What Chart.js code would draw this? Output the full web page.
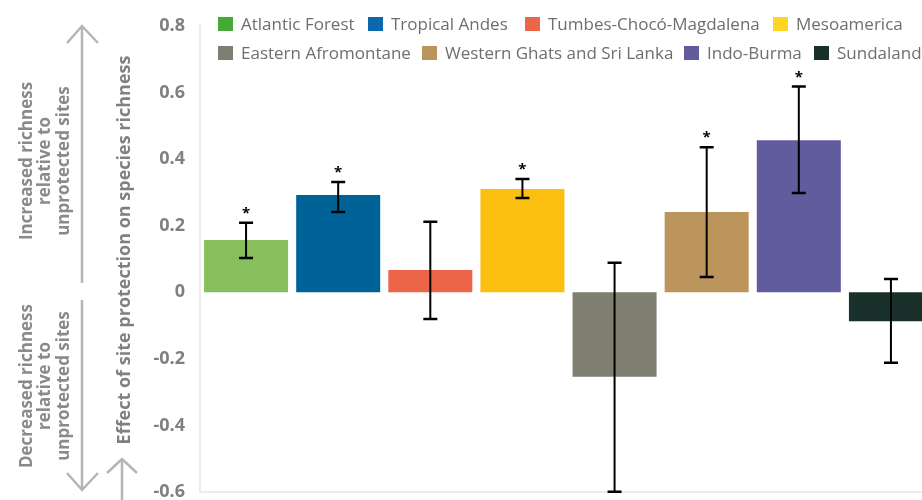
<!DOCTYPE html>
<html>
<head>
<meta charset="utf-8">
<script src="https://cdn.jsdelivr.net/npm/chart.js@4/dist/chart.umd.min.js"></script>
<style>
html,body{margin:0;padding:0;background:#fff;overflow:hidden}
#wrap{position:relative;width:922px;height:500px;overflow:hidden}
canvas{display:block}
</style>
</head>
<body>
<div id="wrap"><canvas id="c" width="940" height="500"></canvas></div>
<script>
const categories = ['Atlantic Forest','Tropical Andes','Tumbes-Chocó-Magdalena','Mesoamerica','Eastern Afromontane','Western Ghats and Sri Lanka','Indo-Burma','Sundaland'];
const effects   = [0.157, 0.292, 0.067, 0.310, -0.254, 0.241, 0.457, -0.087];
const errorLow  = [0.103, 0.241, -0.080, 0.283, -0.599, 0.046, 0.298, -0.212];
const errorHigh = [0.209, 0.331, 0.212, 0.340, 0.089, 0.436, 0.618, 0.040];
const significant = [true, true, false, true, false, true, true, false];
const yTickValues = [-0.6, -0.4, -0.2, 0, 0.2, 0.4, 0.6, 0.8];
const yTickLabels = ['-0.6', '-0.4', '-0.2', '0', '0.2', '0.4', '0.6', '0.8'];
const axisTitle = 'Effect of site protection on species richness';
const increasedLines = ['Increased richness', 'relative to', 'unprotected sites'];
const decreasedLines = ['Decreased richness', 'relative to', 'unprotected sites'];
const starMark = '*';

const barColors    = ['#88bf5d', '#006398', '#ec6548', '#fbbf10', '#7e7f70', '#bb955b', '#615c9e', '#1a302a'];
const legendColors = ['#45ab36', '#0b69ab', '#ed6549', '#fcd622', '#7d7f70', '#bb955b', '#615c9e', '#1a302a'];

const GRAY = '#808080';
const FONT = '"Open Sans", "Noto Sans", sans-serif';
const legendRows = [[0, 1, 2, 3], [4, 5, 6, 7]];
const legendRowY = [24, 53];
const legendItemX = [[218, 368, 525, 773], [218, 422, 684, 814]];

const decorPlugin = {
  id: 'decor',
  afterDatasetsDraw(chart) {
    const ctx = chart.ctx;
    const meta = chart.getDatasetMeta(0);
    const ys = chart.scales.y;
    ctx.save();
    ctx.strokeStyle = '#000';
    ctx.fillStyle = '#000';
    meta.data.forEach((bar, i) => {
      const x = bar.x;
      const yT = ys.getPixelForValue(errorHigh[i]);
      const yB = ys.getPixelForValue(errorLow[i]);
      ctx.lineWidth = 2;
      ctx.beginPath(); ctx.moveTo(x, yT); ctx.lineTo(x, yB); ctx.stroke();
      ctx.lineWidth = 2.5;
      ctx.beginPath(); ctx.moveTo(x - 7, yT); ctx.lineTo(x + 7, yT);
      ctx.moveTo(x - 7, yB); ctx.lineTo(x + 7, yB); ctx.stroke();
      if (significant[i]) {
        ctx.font = 'bold 15px ' + FONT;
        ctx.textAlign = 'center';
        ctx.textBaseline = 'alphabetic';
        ctx.fillText(starMark, x, yT - 5);
      }
    });
    ctx.restore();
  },
  afterDraw(chart) {
    const ctx = chart.ctx;
    ctx.save();
    // legend
    ctx.font = '17px ' + FONT;
    ctx.textBaseline = 'middle';
    ctx.textAlign = 'left';
    legendRows.forEach((row, r) => {
      row.forEach((i, k) => {
        const x = legendItemX[r][k];
        ctx.fillStyle = legendColors[i];
        ctx.fillRect(x, legendRowY[r] - 7, 15, 14);
        ctx.fillStyle = '#6d6e71';
        ctx.fillText(categories[i], x + 23, legendRowY[r] + 1);
      });
    });
    // rotated texts
    const rotText = (lines, cx, cy, font, color, lh) => {
      ctx.save();
      ctx.translate(cx, cy);
      ctx.rotate(-Math.PI / 2);
      ctx.font = font;
      ctx.fillStyle = color;
      ctx.textAlign = 'center';
      ctx.textBaseline = 'middle';
      const n = lines.length;
      lines.forEach((t, k) => ctx.fillText(t, 0, (k - (n - 1) / 2) * lh));
      ctx.restore();
    };
    rotText([axisTitle], 125, 250, 'bold 18px ' + FONT, GRAY, 20);
    rotText(increasedLines, 45.5, 161, 'bold 17px ' + FONT, '#8a8a8a', 18.5);
    rotText(decreasedLines, 45.5, 386, 'bold 17px ' + FONT, '#8a8a8a', 18.5);
    // arrows
    ctx.strokeStyle = '#b5b5b5';
    ctx.lineWidth = 2.5;
    ctx.lineCap = 'butt';
    ctx.beginPath();
    ctx.moveTo(82, 26); ctx.lineTo(82, 283);
    ctx.moveTo(67, 43); ctx.lineTo(82, 26); ctx.lineTo(98, 43);
    ctx.moveTo(82, 300); ctx.lineTo(82, 490);
    ctx.moveTo(67, 473); ctx.lineTo(82, 490); ctx.lineTo(98, 473);
    ctx.moveTo(122, 459); ctx.lineTo(122, 502);
    ctx.moveTo(107, 473); ctx.lineTo(122, 459); ctx.lineTo(137, 473);
    ctx.stroke();
    ctx.restore();
  }
};

new Chart(document.getElementById('c'), {
  type: 'bar',
  data: {
    labels: categories,
    datasets: [{
      data: effects,
      backgroundColor: barColors,
      borderWidth: 0,
      categoryPercentage: 1,
      barPercentage: 0.912
    }]
  },
  options: {
    responsive: false,
    devicePixelRatio: 1,
    animation: false,
    layout: { padding: { left: 0, right: 3, top: 26, bottom: 8 } },
    plugins: { legend: { display: false }, tooltip: { enabled: false } },
    scales: {
      x: {
        grid: { display: false, drawTicks: false },
        ticks: { display: false },
        border: { display: true, color: '#ececec', width: 2 }
      },
      y: {
        min: -0.6, max: 0.8,
        afterBuildTicks: s => { s.ticks = yTickValues.map(v => ({ value: v })); },
        afterFit: s => { s.width = 200; s.paddingTop = 0; s.paddingBottom = 0; },
        grid: { display: false, drawTicks: false },
        border: { display: true, color: '#ececec', width: 2 },
        ticks: {
          padding: 15,
          color: GRAY,
          font: { family: FONT, size: 18, weight: 'bold' },
          callback: (v, i) => yTickLabels[i]
        }
      }
    }
  },
  plugins: [decorPlugin]
});
</script>
</body>
</html>
